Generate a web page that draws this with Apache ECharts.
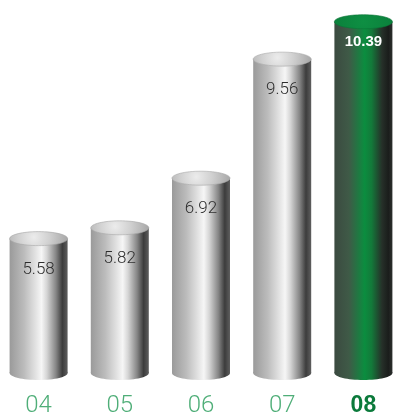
<!DOCTYPE html>
<html><head><meta charset="utf-8">
<script src="https://cdn.jsdelivr.net/npm/echarts@6/dist/echarts.min.js"></script>
<style>html,body{margin:0;padding:0;background:#fff}#c{width:393px;height:413px}</style>
</head><body><div id="c"></div>
<script>
const categories = ['04', '05', '06', '07', '08'];
const values = [5.58, 5.82, 6.92, 9.56, 10.39];
const highlightIndex = 4;

const AXIS_MIN = 2.6, AXIS_MAX = 10.45;
const chart = echarts.init(document.getElementById('c'));

function silverBody() {
  return new echarts.graphic.LinearGradient(0, 0, 1, 0, [
    {offset: 0, color: '#9a9a9a'}, {offset: 0.25, color: '#bcbcbc'},
    {offset: 0.55, color: '#f6f6f6'}, {offset: 0.64, color: '#d6d6d6'},
    {offset: 0.8, color: '#858585'}, {offset: 0.91, color: '#3c3c3c'},
    {offset: 1, color: '#5e5e5e'}]);
}
function greenBody() {
  return new echarts.graphic.LinearGradient(0, 0, 1, 0, [
    {offset: 0, color: '#3b4a40'}, {offset: 0.25, color: '#3f5a47'},
    {offset: 0.52, color: '#0b8d3f'}, {offset: 0.64, color: '#137a3a'},
    {offset: 0.82, color: '#263029'}, {offset: 0.93, color: '#1a1d1b'},
    {offset: 1, color: '#2c2f2d'}]);
}
function silverTop() {
  return new echarts.graphic.RadialGradient(0.42, 0.4, 2.4, [
    {offset: 0, color: '#ececec'}, {offset: 0.45, color: '#d0d0d0'},
    {offset: 1, color: '#a4a4a4'}]);
}
function greenTop() {
  return new echarts.graphic.RadialGradient(0.5, 0.5, 2.5, [
    {offset: 0, color: '#0e8f43'}, {offset: 1, color: '#0a7d3a'}]);
}

const option = {
  animation: false,
  grid: {left: -2, width: 406, top: 19, bottom: 40, outerBoundsMode: 'none', containLabel: false},
  xAxis: {
    type: 'category', data: categories,
    axisLine: {show: false}, axisTick: {show: false},
    axisLabel: {
      margin: 21,
      formatter: function (v, i) { return i === highlightIndex ? '{h|' + v + '}' : '{n|' + v + '}'; },
      rich: {
        n: {fontSize: 24, fontFamily: 'Roboto', fontWeight: 300, color: '#4fae78'},
        h: {fontSize: 23, fontFamily: 'Liberation Sans', fontWeight: 'bold', color: '#0b7a3b'}
      }
    }
  },
  yAxis: {type: 'value', min: AXIS_MIN, max: AXIS_MAX, show: false, splitLine: {show: false}},
  series: [{
    type: 'custom',
    clip: false,
    data: values.map((v, i) => [i, v]),
    renderItem: function (params, api) {
      const idx = api.value(0);
      const top = api.coord([idx, api.value(1)]);
      const base = api.coord([idx, AXIS_MIN]);
      const hl = params.dataIndex === highlightIndex;
      const w = 58, rx = w / 2, ry = 7;
      const cx = top[0];
      const body = hl ? greenBody() : silverBody();
      return {
        type: 'group',
        children: [
          {type: 'ellipse', shape: {cx: cx, cy: base[1], rx: rx, ry: ry}, style: {fill: body}},
          {type: 'rect', shape: {x: cx - rx, y: top[1], width: w, height: base[1] - top[1]}, style: {fill: body}},
          {type: 'ellipse', shape: {cx: cx, cy: top[1], rx: rx, ry: ry},
            style: {fill: hl ? greenTop() : silverTop(), stroke: hl ? '#0a7436' : '#a8a8a8', lineWidth: 0.6}},
          {type: 'text', style: {
            text: values[params.dataIndex].toFixed(2),
            x: cx, y: top[1] + (hl ? 20 : 31),
            align: 'center', verticalAlign: 'middle',
            fontSize: hl ? 15 : 17,
            fontFamily: hl ? 'Liberation Sans' : 'Roboto',
            fontWeight: hl ? 'bold' : 300,
            fill: hl ? '#ffffff' : '#2e2e2e'
          }}
        ]
      };
    }
  }]
};
chart.setOption(option);
</script></body></html>
